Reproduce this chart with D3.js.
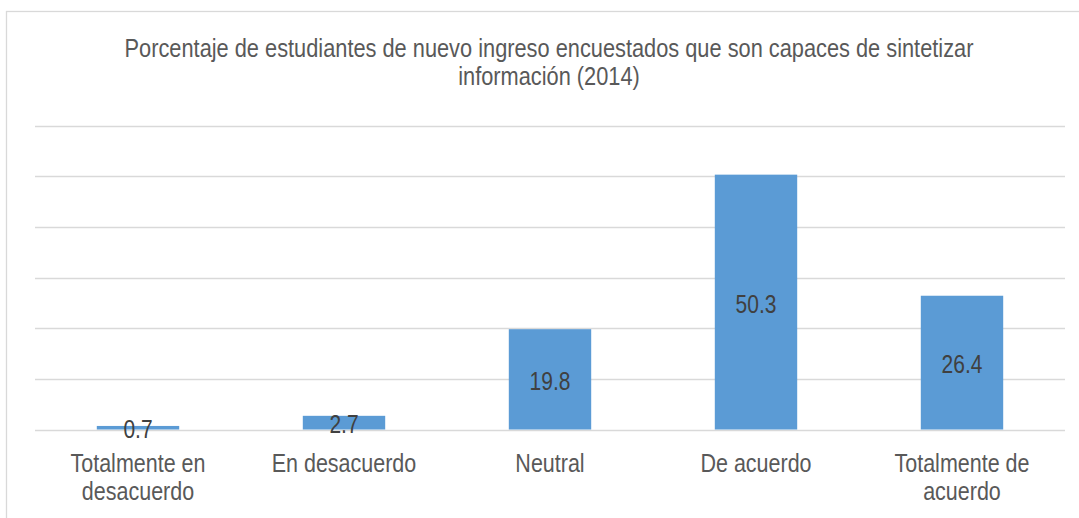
<!DOCTYPE html>
<html>
<head>
<meta charset="utf-8">
<script src="https://cdn.jsdelivr.net/npm/d3@7"></script>
<style>
  body { margin: 0; background: #fff; }
  svg { display: block; font-family: "Liberation Sans", Arial, sans-serif; }
</style>
</head>
<body>
<div id="chart"></div>
<script>
// data
var categories = ['Totalmente en desacuerdo', 'En desacuerdo', 'Neutral', 'De acuerdo', 'Totalmente de acuerdo'];
var labelLines = [['Totalmente en', 'desacuerdo'], ['En desacuerdo'], ['Neutral'], ['De acuerdo'], ['Totalmente de', 'acuerdo']];
var values = [0.7, 2.7, 19.8, 50.3, 26.4];
var yTicks = [0, 10, 20, 30, 40, 50, 60];
var titleLines = ['Porcentaje de estudiantes de nuevo ingreso encuestados que son capaces de sintetizar', 'información (2014)'];

var W = 1079, H = 518;
var sy = 1.22; // text in the picture is stretched vertically

var svg = d3.select('#chart').append('svg')
    .attr('width', W)
    .attr('height', H);

// outer chart border
svg.append('rect')
    .attr('x', 6.5).attr('y', 11.5)
    .attr('width', W + 20).attr('height', H + 20)
    .attr('fill', '#fff')
    .attr('stroke', '#d9d9d9')
    .attr('stroke-width', 1.3);

var x = d3.scaleBand()
    .domain(categories)
    .range([35, 1065])
    .paddingInner(0.6)
    .paddingOuter(0.3);

var y = d3.scaleLinear()
    .domain([0, 60])
    .range([429.5, 125.5]);

// stretched text helper
function stretchedText(g, tx, ty, str, size, color) {
  return g.append('text')
      .attr('transform', 'translate(' + tx + ',' + ty + ') scale(1,' + sy + ')')
      .attr('text-anchor', 'middle')
      .style('font-size', size + 'px')
      .attr('fill', color)
      .text(str);
}

// gridlines
svg.append('g')
  .selectAll('line')
  .data(yTicks)
  .enter().append('line')
    .attr('x1', 35).attr('x2', 1065)
    .attr('y1', function(d) { return Math.round(y(d)) + 0.5; })
    .attr('y2', function(d) { return Math.round(y(d)) + 0.5; })
    .attr('stroke', '#d9d9d9')
    .attr('stroke-width', 1.5);

// bars
svg.append('g')
  .selectAll('rect')
  .data(values)
  .enter().append('rect')
    .attr('x', function(d, i) { return x(categories[i]); })
    .attr('y', function(d) { return y(d); })
    .attr('width', x.bandwidth())
    .attr('height', function(d) { return y(0) - y(d); })
    .attr('fill', '#5b9bd5');

// data labels, centred in the bar
var labels = svg.append('g');
values.forEach(function(d, i) {
  var cx = x(categories[i]) + x.bandwidth() / 2;
  var mid = (y(d) + y(0)) / 2;
  stretchedText(labels, cx, mid + 10.5, d.toFixed(1), 21, '#404040');
});

// category labels
var xl = svg.append('g');
labelLines.forEach(function(lines, i) {
  var cx = x(categories[i]) + x.bandwidth() / 2;
  lines.forEach(function(s, j) {
    stretchedText(xl, cx, 472 + j * 27.5, s, 21.5, '#595959');
  });
});

// title
var tg = svg.append('g');
titleLines.forEach(function(s, j) {
  stretchedText(tg, 549, 57 + j * 28, s, 21.8, '#595959');
});
</script>
</body>
</html>
